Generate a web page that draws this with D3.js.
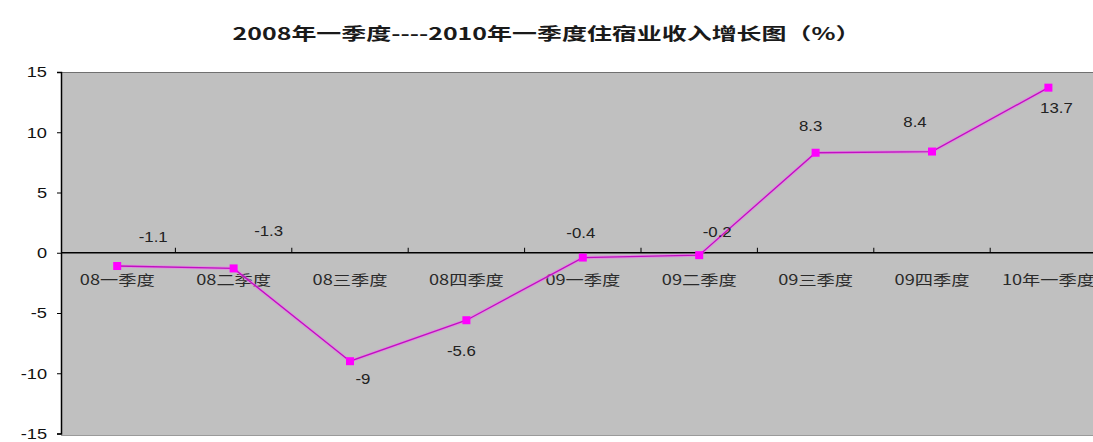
<!DOCTYPE html>
<html><head><meta charset="utf-8">
<script src="https://cdn.jsdelivr.net/npm/d3@7/dist/d3.min.js"></script>
<style>body{margin:0;background:#fff}svg{display:block}</style>
</head><body><svg id="c" width="1093" height="442"></svg>
<script>
const title = "2008年一季度----2010年一季度住宿业收入增长图（%）";
const categories = ["08一季度","08二季度","08三季度","08四季度","09一季度","09二季度","09三季度","09四季度","10年一季度"];
const values = [-1.1, -1.3, -9, -5.6, -0.4, -0.2, 8.3, 8.4, 13.7];
const yTicks = [15, 10, 5, 0, -5, -10, -15];
// label placement offsets (px) relative to each point: [dx, dy]
const labelOffsets = [[36,-29],[35,-37],[13,18],[-5,31],[-2,-24],[18,-23],[-5,-27],[-17,-29],[8,20]];

const svg = d3.select("#c");
const W = 1093, H = 442;
const plotL = 61, plotT = 72, plotB = 435;
const x = d3.scaleBand().domain(categories).range([59, 59 + 9*116.4]).padding(0);
const y = d3.scaleLinear().domain([-15, 15]).range([433.5, 72]);
const cx = d => x(d) + x.bandwidth()/2;
const fmt = d => String(d);

function stretch(sel, k){
  sel.each(function(){
    const w = this.getComputedTextLength();
    d3.select(this).attr("textLength", w*k).attr("lengthAdjust","spacingAndGlyphs");
  });
}

// plot background
svg.append("rect").attr("x", plotL).attr("y", plotT).attr("width", W - plotL).attr("height", plotB - plotT)
  .attr("fill", "#C0C0C0");
svg.append("line").attr("x1", plotL).attr("x2", W).attr("y1", plotT+0.5).attr("y2", plotT+0.5)
  .attr("stroke", "#707070").attr("stroke-width", 1.2);
svg.append("line").attr("x1", plotL).attr("x2", W).attr("y1", plotB+0.5).attr("y2", plotB+0.5)
  .attr("stroke", "#9a9a9a").attr("stroke-width", 1);

// title
const t = svg.append("text").attr("x", W/2).attr("y", 40).attr("text-anchor","middle")
  .attr("font-family","'Noto Sans CJK SC', sans-serif").attr("font-weight","bold")
  .attr("font-size", 17).attr("fill","#1a1a1a").text(title);
t.attr("textLength", 628).attr("lengthAdjust","spacingAndGlyphs");

// y axis
const yAxis = d3.axisLeft(y).tickValues(yTicks).tickSize(4).tickFormat(fmt);
const gy = svg.append("g").attr("transform", `translate(${plotL},0)`).call(yAxis);
gy.select(".domain").attr("stroke","#000").attr("stroke-width",1.5);
gy.selectAll(".tick line").attr("stroke","#000");
gy.selectAll(".tick text").attr("font-family","'Liberation Sans', Arial, sans-serif")
  .attr("font-size", 14).attr("fill","#111").attr("x", -14).attr("dy","0.35em");
stretch(gy.selectAll(".tick text"), 1.3);

// zero axis with category ticks pointing up
const xAxis = d3.axisTop(x).tickSize(0).tickFormat("");
const gx = svg.append("g").attr("transform", `translate(0,${y(0)})`).call(xAxis);
gx.select(".domain").remove();
svg.append("line").attr("x1", plotL).attr("x2", W).attr("y1", y(0)).attr("y2", y(0))
  .attr("stroke","#000").attr("stroke-width",1.6);
const bounds = categories.map(c => x(c)).slice(1).concat([x(categories[8]) + x.bandwidth()]);
svg.append("g").selectAll("line").data(bounds).join("line")
  .attr("x1", d => d).attr("x2", d => d).attr("y1", y(0)).attr("y2", y(0) - 5)
  .attr("stroke","#000").attr("stroke-width",1);

// category labels
const cl = svg.append("g").selectAll("text").data(categories).join("text")
  .attr("x", d => cx(d)).attr("y", y(0) + 32).attr("text-anchor","middle")
  .attr("font-family","'Noto Sans CJK SC', sans-serif").attr("font-size", 14)
  .attr("fill","#2a2a2a").text(d => d);
stretch(cl, 1.3);

// line
const pts = categories.map((c, i) => ({c, v: values[i], i}));
svg.append("path").datum(pts)
  .attr("d", d3.line().x(d => cx(d.c)).y(d => y(d.v)))
  .attr("fill","none").attr("stroke","#F070F0").attr("stroke-width",3.2).attr("opacity",0.6);
svg.append("path").datum(pts)
  .attr("d", d3.line().x(d => cx(d.c)).y(d => y(d.v)))
  .attr("fill","none").attr("stroke","#C010C0").attr("stroke-width",1.3);
svg.append("g").selectAll("rect").data(pts).join("rect")
  .attr("x", d => cx(d.c) - 4).attr("y", d => y(d.v) - 4).attr("width", 8).attr("height", 8)
  .attr("fill","#FF00FF");

// data labels
const dl = svg.append("g").selectAll("text").data(pts).join("text")
  .attr("x", d => cx(d.c) + labelOffsets[d.i][0]).attr("y", d => y(d.v) + labelOffsets[d.i][1])
  .attr("dy","0.35em").attr("text-anchor","middle")
  .attr("font-family","'Liberation Sans', Arial, sans-serif").attr("font-size", 14)
  .attr("fill","#222").text(d => fmt(d.v));
stretch(dl, 1.2);
</script></body></html>
